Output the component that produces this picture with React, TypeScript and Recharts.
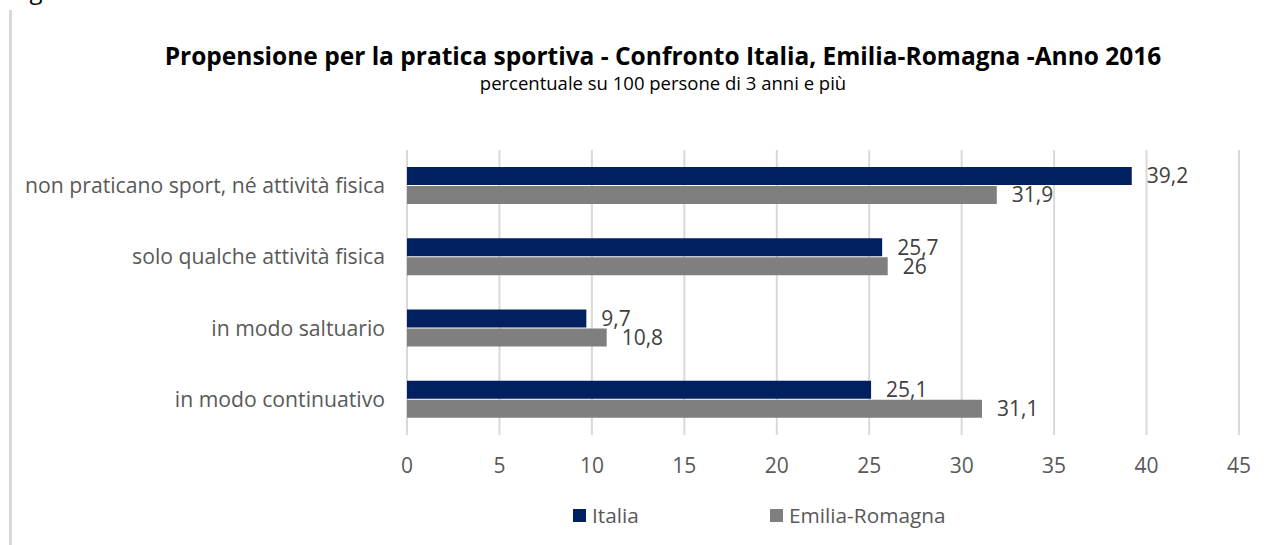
import { Bar, BarChart, CartesianGrid, LabelList, XAxis, YAxis } from 'recharts';

// Categorie (dall'alto in basso) e valori per serie
const CATEGORIE = [
    'non praticano sport, né attività fisica',
    'solo qualche attività fisica',
    'in modo saltuario',
    'in modo continuativo',
];
const ITALIA = [39.2, 25.7, 9.7, 25.1];
const EMILIA_ROMAGNA = [31.9, 26, 10.8, 31.1];
const X_TICKS = [0, 5, 10, 15, 20, 25, 30, 35, 40, 45];

const COLORS = {
    italia: '#002060',
    emilia: '#7f7f7f',
    grid: '#d9d9d9',
    text: '#595959',
};

const FONT = '"Open Sans", Lato, sans-serif';

const data = CATEGORIE.map((cat, i) => ({
    cat,
    italia: ITALIA[i],
    emilia: EMILIA_ROMAGNA[i],
}));

const fmt = (v: unknown) => String(v).replace('.', ',');

function LegendBox() {
    const items = [
        { label: 'Italia', color: COLORS.italia, left: 573 },
        { label: 'Emilia-Romagna', color: COLORS.emilia, left: 770 },
    ];
    return (
        <>
            {items.map((it) => (
                <div
                    key={it.label}
                    style={{ position: 'absolute', left: it.left, top: 501, height: 28, display: 'flex', alignItems: 'center', gap: 6 }}
                >
                    <span style={{ width: 13, height: 13, background: it.color, display: 'inline-block' }} />
                    <span style={{ fontSize: 20.8, color: COLORS.text, fontFamily: FONT }}>{it.label}</span>
                </div>
            ))}
        </>
    );
}

export default function App() {
    return (
        <div style={{ position: 'absolute', left: 0, top: 0, width: 1272, height: 545, background: '#fff', overflow: 'hidden', fontFamily: FONT }}>
            {/* testo tagliato in alto a sinistra (si vede solo la coda della "g") */}
            <div style={{ position: 'absolute', left: 11, top: -27, fontSize: 24, color: '#000', fontFamily: FONT, whiteSpace: 'nowrap' }}>Figura</div>
            {/* bordo sinistro */}
            <div style={{ position: 'absolute', left: 9, top: 10, width: 3, height: 535, background: '#d9d9d9' }} />

            <div style={{ position: 'absolute', left: 0, top: 40, width: 1272, textAlign: 'center', paddingLeft: 54, boxSizing: 'border-box' }}>
                <div style={{ fontSize: 24.5, fontWeight: 700, color: '#000', lineHeight: '32px' }}>
                    Propensione per la pratica sportiva - Confronto Italia, Emilia-Romagna -Anno 2016
                </div>
                <div style={{ fontSize: 18.5, color: '#000', lineHeight: '22px' }}>percentuale su 100 persone di 3 anni e più</div>
            </div>

            <div style={{ position: 'absolute', left: 0, top: 0 }}>
                <BarChart
                    width={1272}
                    height={545}
                    data={data}
                    layout="vertical"
                    margin={{ top: 150, right: 33, left: 0, bottom: 40 }}
                    barSize={18}
                    barGap={1}
                >
                    <CartesianGrid horizontal={false} stroke={COLORS.grid} strokeWidth={2} />
                    <XAxis
                        type="number"
                        domain={[0, 45]}
                        ticks={X_TICKS}
                        axisLine={false}
                        tickLine={false}
                        tickMargin={17}
                        height={70}
                        tick={{ fontSize: 21, fill: COLORS.text, fontFamily: FONT }}
                    />
                    <YAxis
                        type="category"
                        dataKey="cat"
                        width={407}
                        axisLine={false}
                        tickLine={false}
                        tickMargin={16}
                        tick={{ fontSize: 21.2, fill: COLORS.text, fontFamily: FONT }}
                    />
                    <Bar dataKey="italia" name="Italia" fill={COLORS.italia} isAnimationActive={false}>
                        <LabelList dataKey="italia" position="right" offset={15} formatter={fmt} style={{ fontSize: 21, fill: '#404040', fontFamily: FONT }} />
                    </Bar>
                    <Bar dataKey="emilia" name="Emilia-Romagna" fill={COLORS.emilia} isAnimationActive={false}>
                        <LabelList dataKey="emilia" position="right" offset={15} formatter={fmt} style={{ fontSize: 21, fill: '#404040', fontFamily: FONT }} />
                    </Bar>
                </BarChart>
            </div>
            <LegendBox />
        </div>
    );
}
